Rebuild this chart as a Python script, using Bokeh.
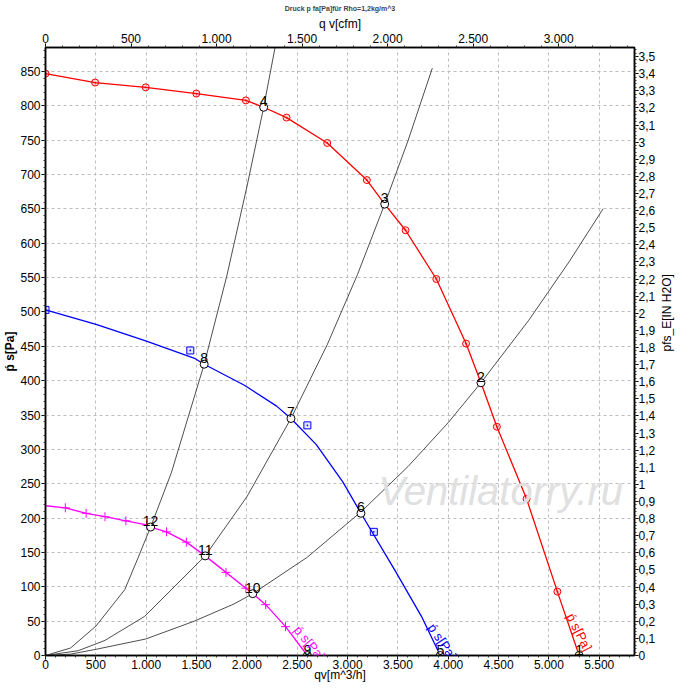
import numpy as np
from bokeh.plotting import figure
from bokeh.models import Range1d, LinearAxis, FixedTicker, Label
from bokeh.core.properties import value
from bokeh.embed import file_html
from bokeh.resources import INLINE

# ---------------- data (q in m^3/h, p in Pa) ----------------
red_line_q = [0, 493, 995, 1498, 1990, 2167, 2394, 2798, 3192, 3369, 3576, 3882, 4177, 4325, 4483, 4778, 5084, 5300]
red_line_p = [847, 834, 827, 818, 808, 798, 783, 746, 692, 657, 619, 548, 454, 397, 333, 228, 93, 0]
red_mark_q = [0, 493, 995, 1498, 1990, 2394, 2798, 3192, 3576, 3882, 4177, 4483, 4778, 5084]
red_mark_p = [847, 834, 827, 818, 808, 783, 746, 692, 619, 548, 454, 333, 228, 93]

blue_line_q = [0, 502, 995, 1488, 1576, 1980, 2296, 2438, 2690, 2956, 3133, 3478, 3734, 3921]
blue_line_p = [503, 482, 458, 432, 424, 393, 363, 345, 307, 252, 207, 122, 57, 0]
blue_mark_q = [0, 1438, 2601, 3261]
blue_mark_p = [503, 444, 335, 180]

mag_line_q = [0, 197, 404, 591, 798, 1005, 1044, 1202, 1399, 1586, 1793, 1990, 2059, 2187, 2384, 2601]
mag_line_p = [218, 215, 207, 202, 196, 190, 187, 180, 165, 145, 121, 98, 90, 74, 42, 0]
mag_mark_q = [197, 404, 591, 798, 1005, 1202, 1399, 1793, 1990, 2187, 2384]
mag_mark_p = [215, 207, 202, 196, 190, 180, 165, 121, 98, 74, 42]

sysA_q = [0, 250, 502, 788, 916, 1044, 1250, 1576, 1800, 2000, 2167, 2280]
sysA_p = [0, 11, 43, 96, 141, 187, 266, 424, 552, 682, 798, 885]
sysB_q = [0, 325, 591, 985, 1586, 2000, 2438, 2800, 3100, 3369, 3600, 3842]
sysB_p = [0, 7, 22, 57, 145, 231, 345, 453, 555, 657, 749, 855]
sysC_q = [0, 250, 502, 995, 1478, 1872, 2059, 2600, 3133, 3600, 4000, 4325, 4800, 5200, 5537]
sysC_p = [0, 2, 9, 24, 50, 75, 90, 143, 209, 275, 339, 397, 488, 573, 650]

op_q = [5300, 4325, 3369, 2167, 3921, 3133, 2438, 1576, 2601, 2059, 1586, 1044]
op_p = [0, 397, 657, 798, 0, 207, 345, 424, 0, 90, 145, 187]
op_labels = ["1", "2", "3", "4", "5", "6", "7", "8", "9", "10", "11", "12"]

x_ticks = [0, 500, 1000, 1500, 2000, 2500, 3000, 3500, 4000, 4500, 5000, 5500]
x_tick_labels = ["0", "500", "1.000", "1.500", "2.000", "2.500", "3.000", "3.500", "4.000", "4.500", "5.000", "5.500"]
cfm_ticks = [0, 500, 1000, 1500, 2000, 2500, 3000]
cfm_tick_labels = ["0", "500", "1.000", "1.500", "2.000", "2.500", "3.000"]
y_ticks = list(range(0, 851, 50))
inh2o_ticks = [round(i / 10, 1) for i in range(0, 36)]
inh2o_tick_labels = [("%g" % t).replace(".", ",") for t in inh2o_ticks]

curve_label_text = "ṕ s[Pa]"
right_axis_title = "pfs_E[IN H2O]"

X_MAX = 5850
Y_MAX = 885
CFM_PER_M3H = 1 / 1.699
INH2O_PER_PA = 1 / 249.09

FONT = "Liberation Sans"
TICK_FONT = "'Liberation Sans Narrow', 'Liberation Sans', sans-serif"

p = figure(width=684, height=684,
           x_range=Range1d(0, X_MAX), y_range=Range1d(0, Y_MAX),
           output_backend="svg", toolbar_location=None,
           min_border_left=39, min_border_right=44,
           min_border_top=41, min_border_bottom=20)
p.background_fill_color = "white"
p.border_fill_color = "white"
p.outline_line_color = "black"
p.outline_line_width = 1.5

p.extra_x_ranges = {"cfm": Range1d(0, X_MAX * CFM_PER_M3H)}
p.extra_y_ranges = {"inh2o": Range1d(0, Y_MAX * INH2O_PER_PA)}

def style_axis(ax, label, bold=False, tick_size="12px"):
    ax.axis_label = label
    ax.axis_label_text_font = FONT
    ax.axis_label_text_font_size = "12px"
    ax.axis_label_text_font_style = "bold" if bold else "normal"
    ax.axis_label_text_color = "black"
    ax.axis_label_standoff = 0
    ax.major_label_text_font = TICK_FONT
    ax.major_label_text_font_size = tick_size
    ax.major_label_text_color = "black"
    ax.major_label_standoff = 1
    ax.axis_line_color = "black"
    ax.axis_line_width = 1.5
    ax.major_tick_line_color = "black"
    ax.minor_tick_line_color = "#333333"
    ax.major_tick_out = 4
    ax.major_tick_in = 0
    ax.minor_tick_out = 2
    ax.minor_tick_in = 0

bx = p.xaxis[0]
bx.ticker = FixedTicker(ticks=x_ticks, minor_ticks=list(range(0, X_MAX, 100)))
bx.major_label_overrides = {t: l for t, l in zip(x_ticks, x_tick_labels)}
style_axis(bx, "qv[m^3/h]")
bx.major_label_standoff = 0
bx.axis_label_standoff = -4

ly = p.yaxis[0]
ly.ticker = FixedTicker(ticks=y_ticks, minor_ticks=list(range(0, Y_MAX, 10)))
style_axis(ly, curve_label_text, bold=True)

tx = LinearAxis(x_range_name="cfm")
tx.ticker = FixedTicker(ticks=cfm_ticks, minor_ticks=list(range(0, 3450, 100)))
tx.major_label_overrides = {t: l for t, l in zip(cfm_ticks, cfm_tick_labels)}
style_axis(tx, "q v[cfm]")
p.add_layout(tx, "above")

ry = LinearAxis(y_range_name="inh2o")
ry.ticker = FixedTicker(ticks=inh2o_ticks,
                        minor_ticks=[round(i / 50, 2) for i in range(0, 178)])
ry.major_label_overrides = {t: l for t, l in zip(inh2o_ticks, inh2o_tick_labels)}
style_axis(ry, right_axis_title)
ry.major_label_standoff = 0
ry.axis_label_orientation = np.pi / 2
ry.axis_label_standoff = 9
p.add_layout(ry, "right")

for g in (p.xgrid[0], p.ygrid[0]):
    g.grid_line_color = "#bdbdbd"
    g.grid_line_dash = "3 3"
    g.grid_line_width = 1
p.xgrid[0].ticker = FixedTicker(ticks=x_ticks)
p.ygrid[0].ticker = FixedTicker(ticks=y_ticks)

# watermark
p.add_layout(Label(x=4522, y=239, text="Ventilatorry.ru", text_align="center",
                   text_baseline="middle", text_font=FONT, text_font_size="40px",
                   text_font_style="italic", text_color="#e0e0e0"))

# system curves
for q, pp in ((sysA_q, sysA_p), (sysB_q, sysB_p), (sysC_q, sysC_p)):
    p.line(q, pp, line_color="#3a3a3a", line_width=0.9)

# fan curves
p.line(red_line_q, red_line_p, line_color="#ff0000", line_width=1.3)
p.scatter(red_mark_q, red_mark_p, marker="circle_dot", size=7, line_color="#ff0000",
          fill_color="#ff0000", fill_alpha=0.15, line_width=1)
p.line(blue_line_q, blue_line_p, line_color="#0000ff", line_width=1.3)
p.scatter(blue_mark_q, blue_mark_p, marker="square_dot", size=7, line_color="#0000ff",
          fill_color="#0000ff", fill_alpha=0.1, line_width=1)
p.line(mag_line_q, mag_line_p, line_color="#ff00ff", line_width=1.3)
p.scatter(mag_mark_q, mag_mark_p, marker="cross", size=9, line_color="#ff00ff", line_width=1)

# operating points
p.scatter(op_q, op_p, marker="circle", size=8, line_color="black", fill_color="white", line_width=1)
p.text(op_q, op_p, text=op_labels, text_align="center", text_baseline="bottom",
       y_offset=-1, text_font=value(FONT), text_font_size="14px", text_color="black")

# curve labels (rotated along each curve)
for (lx, lyv, ang, col) in ((5300, 34, -63, "#ff0000"), (3941, 20, -56, "#0000ff"),
                            (2621, 18, -50, "#ff00ff")):
    p.add_layout(Label(x=lx, y=lyv, text=curve_label_text, angle=ang, angle_units="deg",
                       text_align="center", text_baseline="middle", text_font=FONT,
                       text_font_size="13px", text_color=col))

p.title.text = "Druck p fa[Pa]für Rho=1,2kg/m^3"
p.title.align = "center"
p.title.text_font = FONT
p.title.text_font_size = "7px"
p.title.text_font_style = "bold"
p.title.standoff = 4

open("out.html", "w").write(file_html(p, INLINE))
